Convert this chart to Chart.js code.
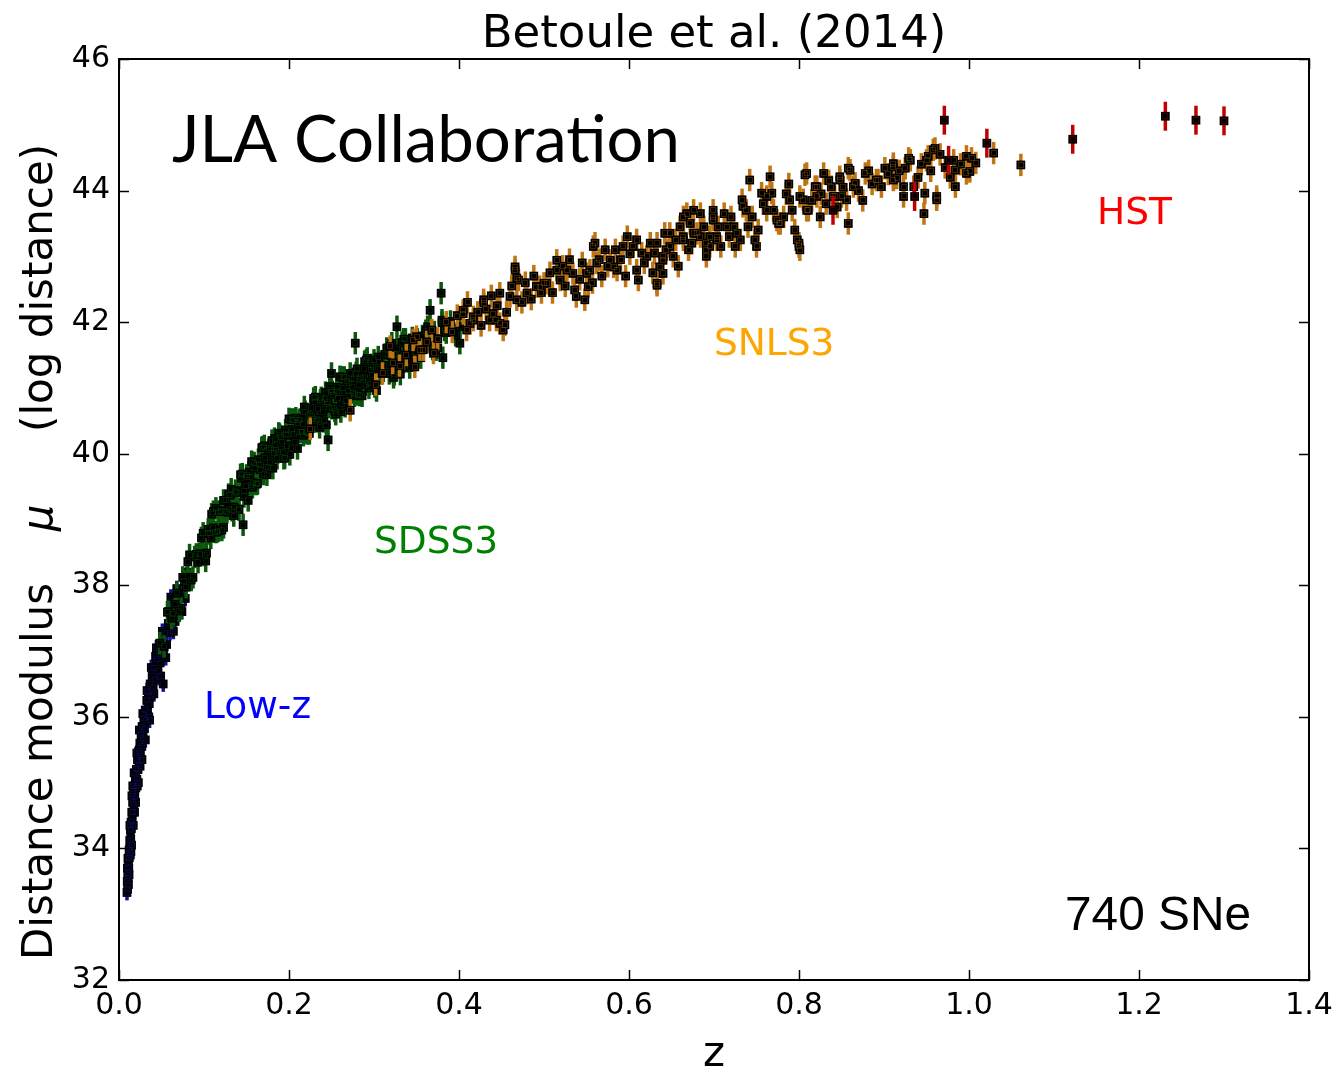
<!DOCTYPE html>
<html>
<head>
<meta charset="utf-8">
<title>JLA Hubble diagram</title>
<script src="https://cdn.jsdelivr.net/npm/chart.js@4"></script>
<style>
  body { margin: 0; background: #fff; }
  canvas { display: block; }
</style>
</head>
<body>
<canvas id="hubble" width="1343" height="1075"></canvas>
<script>
// points: [z, mu]
const lowzPoints = [
  [0.0094,33.33],[0.0097,33.5],[0.0101,33.38],[0.0104,33.62],[0.0108,33.55],[0.0112,33.8],[0.0115,33.7],[0.0119,33.98],
  [0.0122,33.86],[0.0126,34.12],[0.013,34.0],[0.0134,34.28],[0.0138,34.15],[0.0142,34.4],[0.0146,34.3],[0.015,34.55],
  [0.0155,34.42],[0.016,34.7],[0.0165,34.55],[0.017,34.82],[0.0175,34.68],[0.018,34.95],[0.0186,34.8],[0.0192,35.08],
  [0.0198,34.92],[0.0204,35.2],[0.021,35.05],[0.0217,35.35],[0.0224,35.2],[0.0231,35.48],[0.0238,35.32],[0.0245,35.6],
  [0.0252,35.45],[0.026,35.72],[0.0268,35.55],[0.0276,35.85],[0.0284,35.68],[0.0292,35.98],[0.03,35.82],[0.0309,36.1],
  [0.0318,35.95],[0.0327,36.25],[0.0336,36.08],[0.0346,36.38],[0.0356,36.2],[0.0367,36.5],[0.0378,36.32],[0.039,36.62],
  [0.0402,36.45],[0.0415,36.75],[0.0428,36.58],[0.0442,36.88],[0.0456,36.7],[0.047,37.0],[0.0485,36.82],[0.05,37.12],
  [0.052,36.95],[0.054,37.28],[0.056,37.1],[0.058,37.42],[0.06,37.28],[0.063,37.58],[0.066,37.45],[0.069,37.75],
  [0.072,37.62],[0.075,37.92],[0.078,37.8],[0.081,38.05],[0.052,36.5],[0.049,36.62],[0.036,35.95],[0.043,36.92],
  [0.027,35.35],[0.061,37.82],
  [0.0105,33.85],[0.0118,33.6],[0.0128,34.35],[0.014,33.95],[0.0152,34.8],[0.0168,34.35],[0.0178,35.15],[0.0195,34.7],
  [0.021,35.45],[0.0228,35.0],[0.024,35.8],[0.0262,35.35],[0.028,36.05],[0.031,35.65],[0.033,36.4],[0.035,36.0],
  [0.038,36.75],[0.041,36.35],[0.044,37.05],[0.047,36.6],[0.051,37.3],[0.055,36.9],[0.059,37.6],[0.064,37.3],
  [0.068,37.95],[0.074,37.6],[0.08,38.2],
  [0.0099,33.7],[0.0111,33.45],[0.0133,33.9],[0.0148,34.05],[0.0162,34.95],[0.0183,34.55],[0.0215,34.95],[0.0248,35.25]
];

const sdssPoints = [
  [0.048,37.12],[0.053,37.07],[0.057,37.59],[0.062,37.5],[0.066,37.71],[0.071,37.61],[0.075,38.12],[0.079,37.97],
  [0.083,38.46],[0.087,38.12],[0.091,38.47],[0.095,38.48],[0.099,38.79],[0.102,38.37],[0.105,38.85],[0.108,38.72],
  [0.111,38.87],[0.114,39.17],[0.117,38.83],[0.12,39.13],[0.123,38.88],[0.126,39.29],[0.129,39.16],[0.132,39.46],
  [0.135,39.19],[0.138,39.41],[0.141,39.16],[0.144,39.63],[0.147,39.44],[0.15,39.67],[0.152,39.29],[0.154,39.64],
  [0.156,39.88],[0.158,39.56],[0.16,39.78],[0.162,39.54],[0.164,39.91],[0.166,39.76],[0.168,40.09],[0.17,39.69],
  [0.172,39.94],[0.174,39.68],[0.176,40.06],[0.178,39.87],[0.18,40.2],[0.182,40.01],[0.184,40.14],[0.186,39.93],
  [0.188,40.31],[0.19,40.07],[0.192,40.18],[0.194,39.93],[0.196,40.36],[0.198,40.12],[0.2,40.53],[0.202,40.09],
  [0.204,40.37],[0.206,40.3],[0.208,40.54],[0.21,40.08],[0.212,40.51],[0.214,40.33],[0.216,40.45],[0.218,40.71],
  [0.22,40.33],[0.222,40.59],[0.224,40.31],[0.226,40.69],[0.228,40.53],[0.23,40.79],[0.232,40.49],[0.234,40.68],
  [0.236,40.4],[0.238,40.85],[0.24,40.63],[0.242,40.83],[0.244,40.44],[0.246,40.78],[0.248,41.02],[0.25,40.69],
  [0.252,40.9],[0.254,40.65],[0.256,41.01],[0.258,40.85],[0.26,41.17],[0.262,40.76],[0.264,41.0],[0.266,40.72],
  [0.268,41.1],[0.27,40.9],[0.272,41.22],[0.274,41.01],[0.276,41.14],[0.278,40.91],[0.28,41.29],[0.282,41.04],
  [0.284,41.13],[0.286,40.88],[0.288,41.29],[0.29,41.05],[0.292,41.45],[0.294,41.0],[0.296,41.27],[0.298,41.19],
  [0.3,41.42],[0.303,40.96],[0.306,41.4],[0.309,41.22],[0.312,41.34],[0.315,41.6],[0.318,41.22],[0.321,41.49],
  [0.324,41.21],[0.327,41.59],[0.33,41.43],[0.333,41.69],[0.336,41.4],[0.339,41.59],[0.342,41.31],[0.345,41.76],
  [0.348,41.54],[0.351,41.74],[0.355,41.46],[0.359,41.71],[0.363,41.93],[0.367,41.63],[0.371,41.85],[0.375,41.61],
  [0.38,41.99],[0.385,41.84],[0.39,42.01],[0.396,41.8],
  [0.101,38.46],[0.105,38.79],[0.109,39.08],[0.113,38.81],[0.117,39.12],[0.121,38.84],[0.125,39.13],[0.129,39.38],
  [0.133,39.14],[0.137,39.44],[0.141,39.15],[0.145,39.69],[0.149,39.51],[0.153,39.72],[0.157,39.49],[0.161,39.54],
  [0.165,39.84],[0.169,40.1],[0.173,39.8],[0.177,40.09],[0.181,39.78],[0.185,40.06],[0.189,40.29],[0.193,40.03],
  [0.197,40.3],[0.201,39.99],[0.205,40.52],[0.209,40.33],[0.213,40.52],[0.217,40.28],[0.221,40.31],[0.225,40.6],
  [0.229,40.84],[0.233,40.53],[0.237,40.81],[0.241,40.49],[0.245,40.75],[0.249,40.97],[0.253,40.7],[0.257,40.96],
  [0.261,40.64],[0.265,41.16],[0.269,40.95],[0.273,41.13],[0.277,40.88],[0.281,40.9],[0.285,41.17],[0.289,41.4],
  [0.293,41.09],[0.297,41.35],[0.301,41.02],[0.307,41.29],[0.313,41.51],[0.319,41.25],[0.325,41.52],[0.331,41.21],
  [0.337,41.74],[0.343,41.54],[0.357,41.79],[0.369,41.59],
  [0.058,37.6],[0.064,37.56],[0.068,37.88],[0.073,37.65],[0.077,38.06],[0.081,38.36],[0.085,38.08],[0.089,38.43],
  [0.093,38.35],[0.097,38.72],[0.103,38.49],[0.107,38.79],[0.111,39.12],[0.115,38.81],[0.119,39.12],[0.123,39.29],
  [0.127,39.11],[0.131,39.37],[0.135,39.06],[0.139,39.42],[0.143,39.68],[0.147,39.35],[0.151,39.65],[0.155,39.53],
  [0.159,39.86],[0.163,39.55],[0.167,39.83],[0.171,40.12],[0.175,39.79],[0.179,40.08],[0.183,40.23],[0.187,40.02],
  [0.191,40.26],[0.195,39.94],[0.199,40.28],[0.203,40.52],[0.207,40.18],[0.211,40.46],[0.215,40.33],[0.219,40.64],
  [0.223,40.31],[0.227,40.58],[0.231,40.86],[0.235,40.52],[0.239,40.79],[0.243,40.93],[0.247,40.71],[0.251,40.94],
  [0.255,40.6],[0.259,40.93],[0.263,41.16],[0.267,40.8],[0.271,41.08],[0.275,40.93],[0.279,41.23],[0.283,40.89],
  [0.287,41.15],[0.291,41.42],[0.295,41.06],[0.299,41.32],[0.305,41.47],[0.311,41.26],[0.317,41.5],[0.323,41.16],
  [0.329,41.5],[0.335,41.74],[0.341,41.4],[0.347,41.68],[0.353,41.54],[0.361,41.87],[0.373,41.58],[0.383,41.88],
  [0.146,38.92],[0.246,40.21],[0.278,41.68],[0.379,42.44],[0.381,41.46],[0.25,41.22],[0.327,41.93],[0.321,41.68],
  [0.401,41.68],[0.38,42.03],[0.366,42.18],[0.401,41.93]
];

const snlsPoints = [
  [0.225,40.38],[0.272,40.66],[0.31,41.22],[0.319,41.63],[0.33,41.34],[0.346,41.73],[0.348,41.32],[0.35,41.78],
  [0.354,41.58],[0.358,41.58],[0.368,41.88],[0.37,41.53],[0.405,42.18],[0.405,42.13],[0.409,41.88],[0.413,41.98],
  [0.417,42.08],[0.417,42.03],[0.429,42.29],[0.429,42.34],[0.436,42.03],[0.44,42.13],[0.444,42.03],[0.448,41.98],
  [0.448,42.44],[0.452,41.88],[0.454,41.96],[0.46,42.39],[0.466,42.84],[0.466,42.79],[0.468,42.67],[0.468,42.34],
  [0.47,42.64],[0.48,42.44],[0.491,42.54],[0.495,42.54],[0.5,42.59],[0.503,42.59],[0.515,42.94],[0.515,42.79],
  [0.519,42.64],[0.527,42.79],[0.534,42.74],[0.536,42.49],[0.538,42.39],[0.548,42.34],[0.55,42.74],[0.552,42.54],
  [0.554,42.79],[0.558,43.15],[0.56,43.2],[0.562,42.9],[0.578,42.94],[0.582,42.84],[0.584,43.1],[0.586,42.79],
  [0.601,43.04],[0.605,43.15],[0.609,43.25],[0.609,42.79],[0.611,42.64],[0.621,43.0],[0.633,43.2],[0.633,42.59],
  [0.633,42.56],[0.636,42.84],[0.64,42.94],[0.64,43.0],[0.64,42.74],[0.642,43.35],[0.644,43.1],[0.648,43.15],
  [0.648,43.35],[0.664,43.3],[0.664,43.6],[0.664,43.25],[0.668,43.65],[0.672,43.5],[0.676,43.7],[0.676,43.35],
  [0.68,43.35],[0.684,43.3],[0.684,43.65],[0.691,43.2],[0.691,43.0],[0.691,43.1],[0.695,43.3],[0.695,43.15],
  [0.699,43.7],[0.699,43.55],[0.699,43.6],[0.703,43.25],[0.703,43.3],[0.715,43.45],[0.723,43.45],[0.727,43.35],
  [0.731,43.25],[0.733,43.86],[0.734,43.76],[0.738,43.7],[0.742,44.16],[0.748,43.25],[0.75,43.15],[0.756,43.96],
  [0.762,43.7],[0.762,43.91],[0.766,44.21],[0.768,43.96],[0.774,43.55],[0.776,43.5],[0.778,43.5],[0.789,43.86],
  [0.798,43.25],[0.8,43.2],[0.8,43.15],[0.801,43.91],[0.801,43.1],[0.805,43.86],[0.807,44.24],[0.809,43.7],
  [0.809,44.26],[0.811,43.7],[0.819,44.06],[0.821,43.91],[0.821,44.06],[0.829,44.26],[0.838,44.06],[0.84,43.91],
  [0.842,43.91],[0.848,44.16],[0.848,44.21],[0.85,43.91],[0.856,43.86],[0.858,44.34],[0.858,43.5],[0.86,44.31],
  [0.864,44.06],[0.866,44.11],[0.878,44.26],[0.891,44.16],[0.893,44.16],[0.897,44.06],[0.901,44.34],[0.911,44.41],
  [0.911,44.36],[0.911,44.16],[0.915,44.19],[0.923,44.06],[0.923,43.91],[0.925,44.34],[0.929,44.49],[0.931,44.46],
  [0.935,44.06],[0.947,43.65],[0.948,43.96],[0.95,44.46],[0.952,44.52],[0.958,44.62],[0.96,44.64],[0.962,43.91],
  [0.962,43.86],[0.982,44.46],[0.984,44.31],[0.984,44.06],[0.997,44.52],[0.997,44.26],[1.001,44.29],[1.003,44.49],
  [1.029,44.57],[1.061,44.39],
  [0.302,41.05],[0.322,41.38],[0.338,41.5],[0.362,41.7],[0.375,41.75],[0.385,42.0],[0.392,41.85],[0.398,42.1],
  [0.41,42.3],[0.422,42.15],[0.426,41.95],[0.432,42.2],[0.438,42.4],[0.445,42.25],[0.456,42.15],[0.462,42.55],
  [0.474,42.3],[0.478,42.6],[0.485,42.35],[0.488,42.7],[0.497,42.45],[0.507,42.75],[0.51,42.45],[0.522,42.85],
  [0.525,42.55],[0.53,42.95],[0.542,42.65],[0.545,42.9],[0.557,42.6],[0.565,42.95],[0.568,42.7],[0.572,43.1],
  [0.575,42.85],[0.59,42.95],[0.593,43.15],[0.596,42.7],[0.598,43.3],[0.615,43.05],[0.618,42.9],[0.625,43.2],
  [0.628,42.75],[0.63,43.05],[0.652,43.0],[0.655,43.25],[0.658,42.85],[0.66,43.45],[0.67,43.1],[0.674,43.2],
  [0.688,43.45],[0.705,43.45],[0.708,43.15],[0.712,43.65],[0.718,43.3],[0.72,43.6],[0.725,43.15],[0.74,43.45],
  [0.745,43.6],[0.752,43.4],[0.758,43.8],[0.77,43.7],[0.782,43.6],[0.785,43.95],[0.792,43.7],[0.795,43.4],
  [0.815,43.85],[0.825,43.6],[0.832,43.8],[0.835,44.15],[0.845,43.75],[0.852,44.05],[0.87,44.0],[0.875,43.85],
  [0.882,44.3],[0.886,44.1],[0.905,44.25],[0.918,44.3],[0.94,44.2],[0.944,44.4],[0.955,44.3],[0.966,44.55],
  [0.972,44.35],[0.978,44.2],[0.99,44.4],[1.008,44.42],[0.788,44.1],[0.826,43.95]
];

const hstPoints = [
  [0.84,43.7],[0.936,43.91],[0.971,45.07],[0.976,44.46],[1.021,44.72],[1.122,44.78],[1.231,45.13],[1.267,45.07],[1.3,45.06]
];

// typical half-length of the error bars, per sample
const lowzErr = 0.12;
const sdssErr = 0.17;
const snlsErr = 0.17;
const hstErr = 0.22;

const xTicks = [0, 0.2, 0.4, 0.6, 0.8, 1.0, 1.2, 1.4];
const yTicks = [32, 34, 36, 38, 40, 42, 44, 46];

const toXY = (pts, err) => pts.map(p => ({ x: p[0], y: p[1], err: err }));

function sample(label, pts, err, barColor, order) {
    return {
        label: label,
        data: toXY(pts, err),
        barColor: barColor,
        order: order,
        pointStyle: 'rect',
        pointRadius: 6.2,
        pointBorderWidth: 0,
        pointBackgroundColor: '#000',
        pointHoverRadius: 6.2
    };
}

// vertical error bars under each sample's markers
const errorBars = {
    id: 'errorBars',
    beforeDatasetDraw(chart, args) {
        const ds = chart.data.datasets[args.index];
        const { ctx, scales: { x, y } } = chart;
        ctx.save();
        ctx.strokeStyle = ds.barColor;
        ctx.lineWidth = 3.5;
        ds.data.forEach(p => {
            const px = x.getPixelForValue(p.x);
            ctx.beginPath();
            ctx.moveTo(px, y.getPixelForValue(p.y - p.err));
            ctx.lineTo(px, y.getPixelForValue(p.y + p.err));
            ctx.stroke();
        });
        ctx.restore();
    },
    afterDatasetDraw(chart, args) {
        // faint coloured rim inside the black squares
        const ds = chart.data.datasets[args.index];
        const { ctx, scales: { x, y } } = chart;
        ctx.save();
        ctx.strokeStyle = ds.barColor;
        ctx.globalAlpha = 0.3;
        ctx.lineWidth = 1;
        ds.data.forEach(p => {
            const px = Math.round(x.getPixelForValue(p.x));
            const py = Math.round(y.getPixelForValue(p.y));
            ctx.strokeRect(px - 2.5, py - 2.5, 5, 5);
        });
        ctx.restore();
    }
};

// white page, frame with inward ticks on all four sides, texts
const frame = {
    id: 'frame',
    beforeDraw(chart) {
        const { ctx } = chart;
        ctx.save();
        ctx.fillStyle = '#fff';
        ctx.fillRect(0, 0, chart.width, chart.height);
        ctx.restore();
    },
    afterDraw(chart) {
        const { ctx, chartArea: a, scales: { x, y } } = chart;
        ctx.save();
        ctx.strokeStyle = '#000';
        ctx.lineWidth = 1.5;
        const tl = 10;
        xTicks.forEach(v => {
            const px = Math.round(x.getPixelForValue(v)) + 0.5;
            ctx.beginPath();
            ctx.moveTo(px, a.bottom); ctx.lineTo(px, a.bottom - tl);
            ctx.moveTo(px, a.top); ctx.lineTo(px, a.top + tl);
            ctx.stroke();
        });
        yTicks.forEach(v => {
            const py = Math.round(y.getPixelForValue(v)) + 0.5;
            ctx.beginPath();
            ctx.moveTo(a.left, py); ctx.lineTo(a.left + tl, py);
            ctx.moveTo(a.right, py); ctx.lineTo(a.right - tl, py);
            ctx.stroke();
        });
        ctx.lineWidth = 2;
        ctx.strokeRect(a.left, a.top, a.right - a.left, a.bottom - a.top);

        ctx.fillStyle = '#000';
        ctx.textBaseline = 'alphabetic';
        ctx.textAlign = 'center';
        ctx.font = '45px "DejaVu Sans"';
        ctx.fillText('Betoule et al. (2014)', (a.left + a.right) / 2, 47);
        ctx.font = '42px "DejaVu Sans"';
        ctx.fillText('z', (a.left + a.right) / 2, 1066);

        // y label, rotated
        ctx.save();
        ctx.translate(52, 0);
        ctx.rotate(-Math.PI / 2);
        ctx.textAlign = 'left';
        ctx.font = '42px "DejaVu Sans"';
        ctx.fillText('Distance modulus', -960, 0);
        ctx.fillText('(log distance)', -432, 0);
        ctx.textAlign = 'center';
        ctx.font = 'italic 42px "DejaVu Sans"';
        ctx.fillText('\u03bc', -518, 0);
        ctx.restore();

        // JLA Collaboration, scaled to its width in the picture
        ctx.textAlign = 'left';
        ctx.font = '400 100px Lato';
        const w = ctx.measureText('JLA Collaboration').width;
        ctx.font = '400 ' + (100 * 508 / w).toFixed(1) + 'px Lato';
        ctx.fillStyle = '#000';
        ctx.fillText('JLA Collaboration', 172, 162);

        ctx.font = '100px "Liberation Sans"';
        const w2 = ctx.measureText('740 SNe').width;
        ctx.font = (100 * 186 / w2).toFixed(1) + 'px "Liberation Sans"';
        ctx.fillText('740 SNe', 1065, 930);

        ctx.font = '37.5px "DejaVu Sans"';
        ctx.fillStyle = '#ff0000';
        ctx.fillText('HST', 1097, 224);
        ctx.fillStyle = '#ffa500';
        ctx.fillText('SNLS3', 714, 355);
        ctx.fillStyle = '#008000';
        ctx.fillText('SDSS3', 374, 553);
        ctx.fillStyle = '#0000ff';
        ctx.fillText('Low-z', 204, 718);
        ctx.restore();
    }
};

const tickFont = { family: 'DejaVu Sans', size: 30 };

new Chart(document.getElementById('hubble'), {
    type: 'scatter',
    data: {
        datasets: [
            sample('Low-z', lowzPoints, lowzErr, '#141490', 4),
            sample('SDSS3', sdssPoints, sdssErr, '#0b560b', 3),
            sample('SNLS3', snlsPoints, snlsErr, '#c07412', 2),
            sample('HST', hstPoints, hstErr, '#c00000', 1)
        ]
    },
    options: {
        responsive: false,
        animation: false,
        events: [],
        layout: { padding: { top: 59, right: 34, bottom: 0, left: 0 } },
        plugins: { legend: { display: false }, tooltip: { enabled: false } },
        scales: {
            x: {
                type: 'linear', min: 0, max: 1.4,
                afterBuildTicks: s => { s.ticks = xTicks.map(v => ({ value: v })); },
                ticks: { color: '#000', font: tickFont, padding: 8, maxRotation: 0,
                         callback: v => v.toFixed(1) },
                grid: { display: false, drawTicks: false },
                border: { display: false },
                afterFit: s => { s.height = 95; }
            },
            y: {
                type: 'linear', min: 32, max: 46,
                afterBuildTicks: s => { s.ticks = yTicks.map(v => ({ value: v })); },
                ticks: { color: '#000', font: tickFont, padding: 9,
                         callback: v => String(v) },
                grid: { display: false, drawTicks: false },
                border: { display: false },
                afterFit: s => { s.width = 119; }
            }
        }
    },
    plugins: [errorBars, frame]
});
</script>
</body>
</html>
